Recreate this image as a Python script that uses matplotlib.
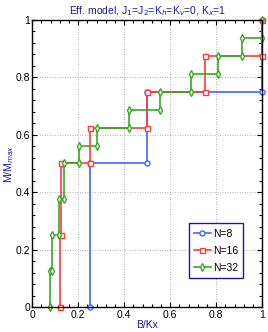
import matplotlib
matplotlib.use("Agg")
import matplotlib.pyplot as plt
from matplotlib.ticker import MultipleLocator

plt.rcParams['font.family'] = ['Liberation Sans', 'DejaVu Sans']

# N=8
x8 = [0.25, 0.25, 0.5, 0.5, 1.0, 1.0]
y8 = [0.0, 0.5, 0.5, 0.75, 0.75, 1.0]
# N=16
x16 = [0.122, 0.122, 0.126, 0.126, 0.25, 0.25, 0.5, 0.5, 0.75, 0.75, 1.0, 1.0]
y16 = [0.0, 0.25, 0.25, 0.5, 0.5, 0.625, 0.625, 0.75, 0.75, 0.875, 0.875, 1.0]
# N=32
x32 = [0.077, 0.077, 0.087, 0.087, 0.116, 0.116, 0.138, 0.138, 0.204, 0.204,
       0.283, 0.283, 0.42, 0.42, 0.555, 0.555, 0.689, 0.689, 0.807, 0.807,
       0.913, 0.913, 1.0, 1.0]
y32 = [0.0, 0.125, 0.125, 0.25, 0.25, 0.375, 0.375, 0.5, 0.5, 0.5625,
       0.5625, 0.625, 0.625, 0.6875, 0.6875, 0.75, 0.75, 0.8125, 0.8125, 0.875,
       0.875, 0.9375, 0.9375, 1.0]

labels = ['N=8', 'N=16', 'N=32']
xticks = [0, 0.2, 0.4, 0.6, 0.8, 1]
xticklabels = ['0', '0.2', '0.4', '0.6', '0.8', '1']
yticks = [0, 0.2, 0.4, 0.6, 0.8, 1]
yticklabels = ['0', '0.2', '0.4', '0.6', '0.8', '1']

fig = plt.figure(figsize=(2.68, 3.32), dpi=100)
ax = fig.add_axes([0.1205, 0.0753, 0.8582, 0.8645])

blue = '#4466ff'
red = '#ff3b3b'
green = '#3aa824'
navy = '#1a1a99'

styles = [(x8, y8, blue, 'o'), (x16, y16, red, 's'), (x32, y32, green, 'd')]
for (xs, ys, c, m), lab in zip(styles, labels):
    ax.plot(xs, ys, color=c, marker=m, markersize=3.6, markerfacecolor='white',
            markeredgecolor=c, markeredgewidth=1.0, linewidth=1.2, label=lab,
            clip_on=False)

ax.set_xlim(0, 1)
ax.set_ylim(0, 1)
ax.set_xticks(xticks)
ax.set_xticklabels(xticklabels)
ax.set_yticks(yticks)
ax.set_yticklabels(yticklabels)
ax.xaxis.set_minor_locator(MultipleLocator(0.04))
ax.yaxis.set_minor_locator(MultipleLocator(0.04))
ax.tick_params(which='both', direction='in', top=True, right=True,
               labelsize=7.5, colors='black', width=0.8)
ax.tick_params(which='major', length=3.5)
ax.tick_params(which='minor', length=2)
ax.tick_params(axis='x', pad=2)
ax.tick_params(axis='y', pad=1.5)
for s in ax.spines.values():
    s.set_linewidth(1.0)
ax.grid(True, which='major', linestyle=(0, (1, 2)), color='#999999', linewidth=0.6)
ax.set_axisbelow(True)

ax.set_title('Eff. model, J$_1$=J$_2$=K$_h$=K$_v$=0, K$_x$=1', fontsize=7.5,
             color=navy, pad=4)
ax.set_xlabel('B/Kx', fontsize=7.5, color=navy, labelpad=0)
ax.set_ylabel('M/M$_{max}$', fontsize=7.5, color=navy, labelpad=0)

leg = ax.legend(loc='lower left', bbox_to_anchor=(0.68, 0.1), fontsize=7.5,
                handlelength=1.6, handletextpad=0.2, borderpad=0.5,
                labelspacing=0.7, fancybox=False, framealpha=1,
                borderaxespad=0)
leg.get_frame().set_edgecolor(navy)
leg.get_frame().set_linewidth(1.0)

fig.savefig('out.png', dpi=100)
